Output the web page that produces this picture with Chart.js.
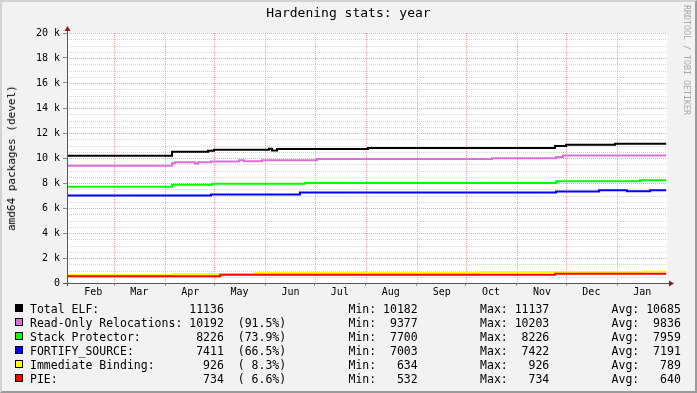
<!DOCTYPE html>
<html><head><meta charset="utf-8">
<script src="https://cdn.jsdelivr.net/npm/chart.js@4/dist/chart.umd.min.js"></script>
<style>
html,body{margin:0;padding:0;background:#F2F2F2;}
#wrap{position:relative;width:697px;height:393px;background:#F2F2F2;overflow:hidden;font-family:"DejaVu Sans Mono",monospace;color:#000;}
#c{position:absolute;left:0;top:0;}
#frame{position:absolute;left:0;top:0;width:697px;height:393px;box-sizing:border-box;border-top:2px solid #D2D2D2;border-left:2px solid #D2D2D2;border-right:2px solid #9B9B9B;border-bottom:2px solid #9B9B9B;pointer-events:none;}
#title{position:absolute;left:0;top:5px;width:697px;text-align:center;font-size:13px;line-height:16px;white-space:pre;}
#ytitle{position:absolute;left:12px;top:158px;transform:translate(-50%,-50%) rotate(-90deg);white-space:pre;font-size:11px;line-height:12px;}
#wm{position:absolute;left:682px;top:5px;writing-mode:vertical-rl;font-size:8.3px;line-height:10px;color:#A8A8A8;white-space:pre;}
#legend{position:absolute;left:15px;top:302px;}
.row{height:14px;line-height:14px;position:relative;font-size:11.5px;white-space:pre;width:680px;}
.sw{position:absolute;left:0;top:2px;width:6px;height:6px;border:1px solid #000;}
.txt{position:absolute;left:15px;top:0;}
</style>
</head><body>
<div id="wrap">
  <canvas id="c" width="697" height="393"></canvas>
  <div id="title">Hardening stats: year</div>
  <div id="ytitle">amd64 packages (devel)</div>
  <div id="wm">RRDTOOL / TOBI OETIKER</div>
  <div id="legend"></div>
  <div id="frame"></div>
</div>
<script>
// ---- data (x = days counted from Feb 1) ----
const monthNames = ['Feb','Mar','Apr','May','Jun','Jul','Aug','Sep','Oct','Nov','Dec','Jan'];
const monthStartDays = [0,28,59,89,120,150,181,212,242,273,303,334];
const yTickLabelValues = [0,2000,4000,6000,8000,10000,12000,14000,16000,18000,20000];

const totalElfDays = [-0.7,63.2,85.1,88.7,122.2,124.0,127.1,182.4,296.2,302.9,332.7,363.8];
const totalElfVals = [10182,10497,10577,10657,10737,10609,10713,10793,10953,11057,11137,11137];

const rorelDays = [-0.7,63.2,65.0,77.2,79.0,86.9,103.9,107.0,117.9,151.4,257.8,296.8,301.0,335.1,338.8,363.8];
const rorelVals = [9377,9580,9670,9570,9670,9730,9830,9740,9830,9930,9990,10080,10192,10203,10192,10192];

const stackDays = [-0.7,63.2,87.5,144.1,296.8,347.9,363.8];
const stackVals = [7700,7860,7940,8000,8150,8226,8226];

const fortifyDays = [-0.7,86.9,141.0,296.8,322.9,339.9,354.0,363.8];
const fortifyVals = [7003,7090,7240,7330,7422,7340,7411,7411];

const bindnowDays = [-0.7,63.8,113.7,249.9,349.7,363.8];
const bindnowVals = [634,730,800,880,926,926];

const pieDays = [-0.7,92.4,296.2,363.8];
const pieVals = [532,658,734,734];

const seriesNames = ['Total ELF:','Read-Only Relocations:','Stack Protector:','FORTIFY_SOURCE:','Immediate Binding:','PIE:'];
const seriesColors = ['#000000','#DA70D6','#00FF00','#0000FF','#FFFF00','#FF0000'];
const lastVals = [11136,10192,8226,7411,926,734];
const lastPct = ['','(91.5%)','(73.9%)','(66.5%)','( 8.3%)','( 6.6%)'];
const minVals = [10182,9377,7700,7003,634,532];
const maxVals = [11137,10203,8226,7422,926,734];
const avgVals = [10685,9836,7959,7191,789,640];

// ---- build ----
const dayArrays = [totalElfDays,rorelDays,stackDays,fortifyDays,bindnowDays,pieDays];
const valArrays = [totalElfVals,rorelVals,stackVals,fortifyVals,bindnowVals,pieVals];

const datasets = dayArrays.map((days,i)=>({
  label: seriesNames[i],
  data: days.map((d,j)=>({x:d, y:valArrays[i][j]})),
  borderColor: seriesColors[i],
  backgroundColor: seriesColors[i],
  borderWidth: 2,
  stepped: true,
  pointRadius: 0,
  fill: false,
  order: dayArrays.length - i
}));

const xTickValues = [], xTickLabels = [], xTickIsGrid = [];
monthStartDays.forEach((s,i)=>{
  if (s > 0) { xTickValues.push(s); xTickLabels.push(''); xTickIsGrid.push(true); }
  xTickValues.push(s + 15.3); xTickLabels.push(monthNames[i]); xTickIsGrid.push(false);
});
const yTickValues = [];
for (let v = 0; v <= 20000; v += 500) yTickValues.push(v);

const MAJOR = '#F2A4A4';
const MINOR = '#D4D4D4';
const NONE = 'rgba(0,0,0,0)';
const tickFont = {family:'"DejaVu Sans Mono", monospace', size:10};

// dotted grid lines drawn under the data, at the scale tick positions
const rrdFrame = {
  id:'rrdFrame',
  beforeDatasetsDraw(chart){
    const {ctx, chartArea:a, scales} = chart;
    ctx.save(); ctx.fillStyle = '#FFFFFF';
    ctx.fillRect(a.left, a.top, a.right-a.left, a.bottom-a.top);
    ctx.lineWidth = 1; ctx.setLineDash([1,1]);
    const ys = scales.y;
    ys.ticks.forEach(t=>{
      const p = Math.round(ys.getPixelForValue(t.value)) + 0.5;
      ctx.strokeStyle = (t.value % 2000 === 0) ? MAJOR : MINOR;
      ctx.beginPath(); ctx.moveTo(a.left, p); ctx.lineTo(a.right, p); ctx.stroke();
    });
    const xs = scales.x;
    xs.ticks.forEach((t,i)=>{
      if (!xTickIsGrid[i]) return;
      const p = Math.round(xs.getPixelForValue(t.value)) + 0.5;
      ctx.strokeStyle = MAJOR;
      ctx.beginPath(); ctx.moveTo(p, a.top); ctx.lineTo(p, a.bottom); ctx.stroke();
    });
    ctx.restore();
  },
  afterDraw(chart){
    const {ctx, chartArea:a} = chart;
    const L = Math.round(a.left), B = Math.round(a.bottom), R = Math.round(a.right), T = Math.round(a.top);
    ctx.save();
    ctx.strokeStyle = '#555555'; ctx.lineWidth = 1;
    ctx.beginPath(); ctx.moveTo(L+0.5, B+3); ctx.lineTo(L+0.5, T-4); ctx.stroke();
    ctx.beginPath(); ctx.moveTo(L-4, B+0.5); ctx.lineTo(R+4, B+0.5); ctx.stroke();
    ctx.fillStyle = '#8B1A1A';
    ctx.beginPath(); ctx.moveTo(L+0.5, T-7); ctx.lineTo(L-2.5, T-2); ctx.lineTo(L+3.5, T-2); ctx.closePath(); ctx.fill();
    ctx.beginPath(); ctx.moveTo(R+7, B+0.5); ctx.lineTo(R+2, B-2.5); ctx.lineTo(R+2, B+3.5); ctx.closePath(); ctx.fill();
    ctx.restore();
  }
};

new Chart(document.getElementById('c'), {
  type:'line',
  data:{datasets},
  plugins:[rrdFrame],
  options:{
    responsive:false, animation:false, devicePixelRatio:1,
    layout:{padding:{left:0, top:33, right:30, bottom:90}},
    plugins:{legend:{display:false}, tooltip:{enabled:false}, title:{display:false}},
    scales:{
      x:{
        type:'linear', min:-0.7, max:364.3, bounds:'data',
        afterBuildTicks(s){ s.ticks = xTickValues.map(v=>({value:v})); },
        afterFit(s){ s.height = 20; },
        grid:{
          drawOnChartArea:false,
          tickColor:(c)=> xTickIsGrid[c.index] ? '#999999' : NONE,
          tickLength:3, lineWidth:1
        },
        border:{display:false},
        ticks:{autoSkip:false, maxRotation:0, minRotation:0, padding:0, font:tickFont, color:'#000',
          callback:(v,i)=> xTickLabels[i]}
      },
      y:{
        type:'linear', min:0, max:20000, bounds:'data',
        afterBuildTicks(s){ s.ticks = yTickValues.map(v=>({value:v})); },
        afterFit(s){ s.width = 67; },
        grid:{
          drawOnChartArea:false,
          tickColor:(c)=> (c.tick && c.tick.value % 2000 === 0) ? '#888888' : NONE,
          tickLength:4, lineWidth:1
        },
        border:{display:false},
        ticks:{autoSkip:false, padding:3, font:tickFont, color:'#000',
          callback:(v)=> yTickLabelValues.includes(v) ? (v===0 ? '0' : (v/1000)+' k') : ''}
      }
    }
  }
});

// ---- legend text ----
const pad = (s,n)=> (s + ' '.repeat(n)).slice(0,n);
const lpad = (s,n)=> (' '.repeat(n) + s).slice(-n);
const legend = document.getElementById('legend');
seriesNames.forEach((name,i)=>{
  let line = pad(name,23) + lpad(String(lastVals[i]),5) + '  ' + pad(lastPct[i],7);
  line = pad(line,46) + 'Min: ' + lpad(String(minVals[i]),5);
  line = pad(line,65) + 'Max: ' + lpad(String(maxVals[i]),5);
  line = pad(line,84) + 'Avg: ' + lpad(String(avgVals[i]),5);
  const row = document.createElement('div'); row.className='row';
  const sw = document.createElement('div'); sw.className='sw'; sw.style.background = seriesColors[i];
  const tx = document.createElement('div'); tx.className='txt'; tx.textContent = line;
  row.appendChild(sw); row.appendChild(tx); legend.appendChild(row);
});
</script>
</body></html>
